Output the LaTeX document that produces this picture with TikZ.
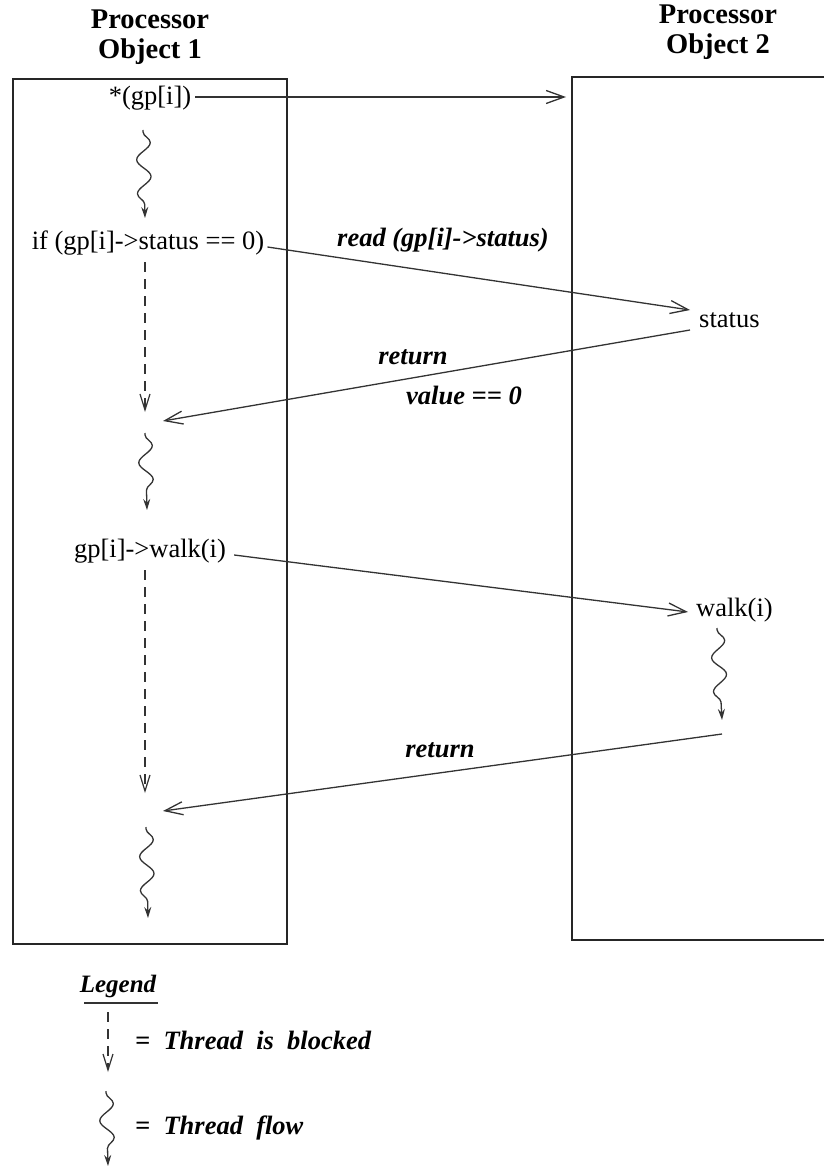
\documentclass[tikz,border=0pt]{standalone}
\usepackage{fontspec}
\setmainfont{Liberation Serif}
\usetikzlibrary{arrows.meta,decorations.pathmorphing}
\begin{document}
\begin{tikzpicture}[x=1pt,y=-1pt,
  every node/.style={inner sep=0pt,font=\fontsize{26.5}{30}\selectfont},
  title/.style={font=\fontsize{28.5}{30}\selectfont\bfseries,align=center},
  lbl/.style={font=\fontsize{26.5}{30}\selectfont\bfseries\itshape},
  procbox/.style={line width=1.6pt,draw=black!85},
  msg/.style={line width=1.3pt,draw=black!80,-{Straight Barb[length=18pt,width=13pt,line width=1.3pt]}},
  blocked/.style={line width=1.3pt,draw=black!80,dash pattern=on 10pt off 7pt,-{Straight Barb[length=16pt,width=10pt,line width=1.2pt]}},
  wave/.style={line width=1.3pt,draw=black!80,decorate,
    decoration={snake,segment length=34pt,amplitude=7pt,pre length=2pt,post length=12pt},
    -{Stealth[length=11pt,width=7pt]}}]
\useasboundingbox (0,0) rectangle (824,1166);

% processor boxes
\draw[procbox] (13,79) rectangle (287,944);
\draw[procbox] (824,77) -- (572,77) -- (572,940) -- (824,940);

% titles
\node[title] (t1) at (150,37) {Processor\\Object 1};
\node[title] (t2) at (718,32) {Processor\\Object 2};

% statements on processor object 1
\node (deref) at (150,98) {*(gp[i])};
\node (iftest) at (148,243) {if (gp[i]->status == 0)};
\node (walkcall) at (150,551) {gp[i]->walk(i)};

% items on processor object 2
\node[anchor=west] (status) at (699,320) {status};
\node[anchor=west] (walk) at (696,610) {walk(i)};

% connector end points
\coordinate (c1e) at (566,97);
\coordinate (rdin) at (690,310);
\coordinate (rdout) at (690,330);
\coordinate (wkin) at (688,612);
\coordinate (s1) at (143,130); \coordinate (s1e) at (145,218);
\coordinate (b1) at (145,262); \coordinate (b1e) at (145,412);
\coordinate (r1e) at (163,421);
\coordinate (s2) at (145,433); \coordinate (s2e) at (147,510);
\coordinate (b2) at (145,570); \coordinate (b2e) at (145,793);
\coordinate (s3) at (717,628); \coordinate (s3e) at (722,720);
\coordinate (r2s) at (722,734); \coordinate (r2e) at (163,811);
\coordinate (s4) at (146,827); \coordinate (s4e) at (148,918);

% messages between processors
\draw[msg] (deref.east) ++(4,-1) -- (c1e);
\draw[msg] (iftest.east) ++(3,4) -- (rdin);
\draw[msg] (rdout) -- (r1e);
\draw[msg] (walkcall.east) ++(8,4) -- (wkin);
\draw[msg] (r2s) -- (r2e);

% message labels
\node[lbl] (rd) at (443,240) {read (gp[i]->status)};
\node[lbl] (ret1) at (413,357) {return};
\node[lbl] (val) at (464,395) {value == 0};
\node[lbl] (ret2) at (440,750) {return};

% thread activity
\draw[wave] (s1) -- (s1e);
\draw[blocked] (b1) -- (b1e);
\draw[wave] (s2) -- (s2e);
\draw[blocked] (b2) -- (b2e);
\draw[wave] (s3) -- (s3e);
\draw[wave] (s4) -- (s4e);

% legend
\node[lbl,font=\fontsize{25}{28}\selectfont\bfseries\itshape] (leg) at (118,986) {Legend};
\draw[line width=1.3pt,draw=black!80] (84,1003) -- (158,1003);
\coordinate (lb) at (108,1012); \coordinate (lbe) at (108,1072);
\draw[blocked] (lb) -- (lbe);
\node[lbl,anchor=west] (lbt) at (135,1040) {=\ \ Thread\ \ is\ \ blocked};
\coordinate (lw) at (106,1091); \coordinate (lwe) at (108,1166);
\draw[wave] (lw) -- (lwe);
\node[lbl,anchor=west] (lwt) at (135,1128) {=\ \ Thread\ \ flow};
\end{tikzpicture}
\end{document}
